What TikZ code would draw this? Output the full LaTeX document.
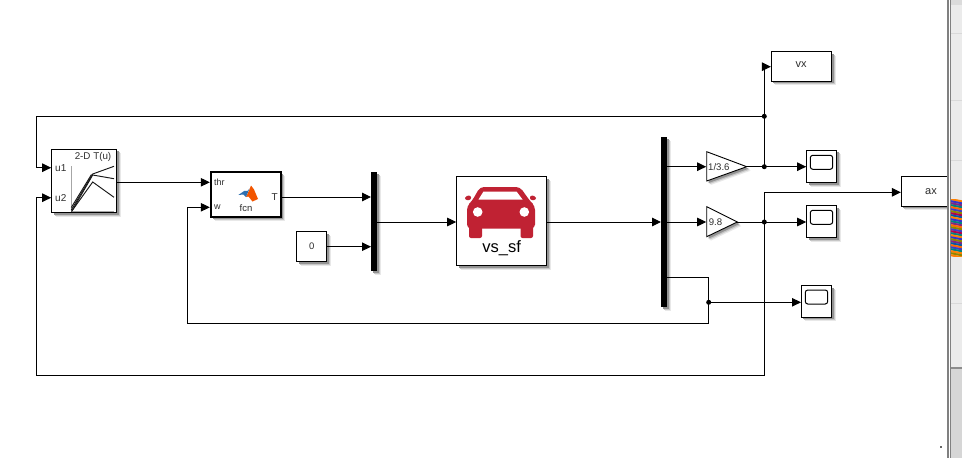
\documentclass[tikz,border=0pt]{standalone}
\usepackage{fontspec}
\setmainfont{Liberation Sans}
\usetikzlibrary{arrows.meta,shadows}
\definecolor{carred}{HTML}{C02233}
\definecolor{txt}{HTML}{2E2E2E}
\tikzset{
  softshadow/.style={
    general shadow={shadow xshift=4pt,shadow yshift=-4pt,fill=black!9},
    general shadow={shadow xshift=3pt,shadow yshift=-3pt,fill=black!22},
    general shadow={shadow xshift=2pt,shadow yshift=-2pt,fill=black!42}},
  block/.style={draw=black,fill=white,line width=1pt,inner sep=0pt,outer sep=0pt,softshadow,text=txt,font=\fontsize{11}{12}\selectfont},
  muxbar/.style={fill=black,draw=none,inner sep=0pt,outer sep=0pt,minimum width=6pt,softshadow},
  screen/.style={draw=black,fill=white,line width=1pt,rounded corners=2.5pt,inner sep=0pt,minimum width=22.4pt,minimum height=14pt},
  wire/.style={line width=0.95pt,draw=black},
  arrowwire/.style={wire,-{Triangle[length=9pt,width=8.5pt]}},
  joint/.style={circle,fill=black,inner sep=0pt,minimum size=5pt},
  lab/.style={text=txt,inner sep=0pt,font=\fontsize{10}{11}\selectfont},
  curve/.style={line width=0.95pt,draw=black!90},
  gainshape/.style={draw=black,fill=white,line width=0.9pt,softshadow}
}
\begin{document}
\begin{tikzpicture}[x=1pt,y=-1pt]
\useasboundingbox (0,0) rectangle (962,458);
\fill[white] (0,0) rectangle (962,458);

% blocks
\node[block,minimum width=65pt,minimum height=63.4pt] (lut) at (84.2,181) {};
\node[block,line width=2pt,minimum width=69.5pt,minimum height=45.5pt] (fcn) at (246.2,194.5) {};
\node[block,minimum width=30pt,minimum height=30pt,font=\fontsize{9.5}{10}\selectfont] (zero) at (311.7,246.7) {0};
\node[muxbar,minimum height=99pt] (mux1) at (374,221.5) {};
\node[block,minimum width=90pt,minimum height=89.3pt] (car) at (501.7,221.3) {};
\node[muxbar,minimum height=170pt] (mux2) at (664,221.7) {};
\node[block,minimum width=60.4pt,minimum height=29.6pt] (vx) at (801.5,66.5) {};
\node[text=txt,inner sep=0pt,font=\fontsize{11}{12}\selectfont] (vxlab) at (801,65) {vx};
\node[block,minimum width=30pt,minimum height=32.4pt] (scope1) at (821.7,166.5) {};
\node[screen] (screen1) at (821.5,162.3) {};
\node[block,minimum width=30pt,minimum height=32pt] (scope2) at (821.7,221.7) {};
\node[screen] (screen2) at (821.5,217.3) {};
\node[block,minimum width=30.4pt,minimum height=31.6pt] (scope3) at (816.5,301.5) {};
\node[screen] (screen3) at (816.5,297) {};
\node[block,minimum width=59.4pt,minimum height=30pt] (ax) at (931,191.3) {ax};

% gains
\filldraw[gainshape] (706.7,151.7) -- (746.7,166.7) -- (706.7,181) -- cycle;
\filldraw[gainshape] (706.7,206.7) -- (737.3,222) -- (706.7,236.7) -- cycle;
\node[lab,anchor=west,font=\fontsize{9.6}{10}\selectfont] (gain1) at (708,167) {1/3.6};
\node[lab,anchor=west,font=\fontsize{9.6}{10}\selectfont] (gain2) at (708.6,222.3) {9.8};

% lookup table contents
\node[lab,anchor=west] (u1lab) at (55,167.7) {u1};
\node[lab,anchor=west] (u2lab) at (55,197.7) {u2};
\node[lab,font=\fontsize{9.8}{10}\selectfont] (luttitle) at (93,157.3) {2-D T(u)};
\draw[black!35,line width=0.8pt] (71.3,166) -- (71.3,211.5) -- (114,211.5);
\draw[curve] (71.3,210) -- (92.7,174) -- (114,166.3);
\draw[curve] (72,211) -- (92.7,175) -- (114,178.7);
\draw[curve] (71.3,207.5) -- (91.5,174.5);
\draw[curve] (71.5,211.5) -- (92.7,182) -- (114,197.3);

% fcn contents
\node[lab,anchor=west,font=\fontsize{9}{10}\selectfont] (thrlab) at (214,182.3) {thr};
\node[lab,anchor=west,font=\fontsize{9}{10}\selectfont] (wlab) at (214,207.3) {w};
\node[lab,anchor=east] (tlab) at (278,196.8) {T};
\node[lab,font=\fontsize{9.5}{10}\selectfont] (fcnlab) at (246,208) {fcn};
\fill[orange!70!red!95!black] (251,185.5) -- (254,189.5) -- (258,199) -- (252.5,201.5) -- (248.5,196.5) -- (246,197) -- (249,190.5) -- cycle;
\fill[cyan!55!blue!85!black] (238.3,195) -- (244.5,190.8) -- (247.5,191) -- (249.5,188.5) -- (246,197) -- (243.5,194.5) -- cycle;

% car contents
\fill[carred,rounded corners=2pt] (465,196) -- (471,195.5) -- (471,200) -- (465,200) -- cycle;
\fill[carred,rounded corners=2pt] (530,195.5) -- (536,196) -- (536,200) -- (530,200) -- cycle;
\fill[carred,rounded corners=4pt] (467,228.5) -- (467,206) -- (472,201) -- (480,187) -- (520,187) -- (530,201) -- (535,206) -- (535,228.5) -- cycle;
\fill[carred,rounded corners=2pt] (469,226) rectangle (482,238);
\fill[carred,rounded corners=2pt] (520.5,226) rectangle (533,238);
\fill[white] (483.5,191.5) -- (516.5,191.5) -- (522.5,199.5) -- (478.5,199.5) -- cycle;
\fill[white] (477.7,212) circle (4.8pt);
\fill[white] (524.3,212) circle (4.8pt);
\node[text=black,inner sep=0pt,font=\fontsize{16.5}{18}\selectfont] (carlab) at (501.7,248) {vs\_sf};

% scope/port coordinates
\coordinate (u1) at (51.2,167.7);
\coordinate (u2) at (51.2,197.7);
\coordinate (lutout) at (117,182.3);
\coordinate (thr) at (209.8,182.3);
\coordinate (wport) at (209.8,207.3);
\coordinate (fcnout) at (281.5,197);
\coordinate (muxA) at (371,197);
\coordinate (zeroout) at (326.7,246.7);
\coordinate (muxB) at (371,246.7);
\coordinate (mux1out) at (377,222);
\coordinate (carin) at (456.2,222);
\coordinate (carout) at (546.7,222);
\coordinate (mux2in) at (661,222);
\coordinate (mux2a) at (667,166.7);
\coordinate (mux2b) at (667,222);
\coordinate (mux2c) at (667,277.3);
\coordinate (g1in) at (706.2,166.7);
\coordinate (g1out) at (746.7,166.7);
\coordinate (g2in) at (706.2,222);
\coordinate (g2out) at (737.3,222);
\coordinate (s1in) at (806.2,166.7);
\coordinate (s2in) at (806.2,222);
\coordinate (s3in) at (801,302.3);
\coordinate (vxin) at (770.9,66.7);
\coordinate (axin) at (900.9,192.3);
\coordinate (cornerVx) at (764.3,66.7);
\coordinate (cornerAx) at (764.3,192.3);
\coordinate (cornerLoopR) at (764.3,375.3);
\coordinate (cornerLoopL) at (36.7,375.3);
\coordinate (cornerU2) at (36.7,197.7);
\coordinate (cornerTopL) at (36.7,116.3);
\coordinate (cornerU1) at (36.7,167.7);
\coordinate (cornerW) at (187,207.3);
\coordinate (cornerWb) at (187,323.3);
\coordinate (cornerFbR) at (708.7,323.3);
\coordinate (cornerFbT) at (708.7,277.3);
\node[joint] (jtop) at (764.3,116.3) {};
\node[joint] (jv) at (764.3,166.7) {};
\node[joint] (ja) at (764.3,222) {};
\node[joint] (jw) at (708.7,302.3) {};

% wires
\draw[arrowwire] (jtop.center) -- (cornerTopL) -- (cornerU1) -- (u1);
\draw[arrowwire] (ja.center) -- (cornerLoopR) -- (cornerLoopL) -- (cornerU2) -- (u2);
\draw[arrowwire] (lutout) -- (thr);
\draw[arrowwire] (mux2c) -- (cornerFbT) -- (cornerFbR) -- (cornerWb) -- (cornerW) -- (wport);
\draw[arrowwire] (fcnout) -- (muxA);
\draw[arrowwire] (zeroout) -- (muxB);
\draw[arrowwire] (mux1out) -- (carin);
\draw[arrowwire] (carout) -- (mux2in);
\draw[arrowwire] (mux2a) -- (g1in);
\draw[arrowwire] (mux2b) -- (g2in);
\draw[arrowwire] (g1out) -- (s1in);
\draw[arrowwire] (g2out) -- (s2in);
\draw[arrowwire] (jw.center) -- (s3in);
\draw[arrowwire] (jv.center) -- (cornerVx) -- (vxin);
\draw[arrowwire] (ja.center) -- (cornerAx) -- (axin);

% right-hand window edge
\fill[white] (947,0) rectangle (962,458);
\fill[black!8] (951,0) rectangle (962,368);
\fill[black!14] (951,0) rectangle (962,5);
\fill[black!16] (951,368) rectangle (962,458);
\fill[black!45] (951,367) rectangle (962,368.5);
\foreach \yy in {33,100,160,240,303} {\fill[black!15] (951,\yy) rectangle (962,\yy+0.8);}
\fill[black!50] (947.3,0) rectangle (948.7,458);
\fill[black!50] (950,0) rectangle (951,458);
\begin{scope}
\clip (951,199.5) rectangle (962,256);
\foreach \i/\c in {0/orange,1/blue!60!gray,2/violet!70!gray,3/teal,4/orange!80!red,5/blue!50!gray,6/olive,7/violet!60!red,8/teal!70!blue,9/orange,10/blue!60!gray,11/teal,12/violet!70!gray,13/orange!80!red,14/olive,15/blue!50!gray,16/violet!60!red,17/teal,18/orange,19/blue!60!gray,20/olive,21/violet!70!gray,22/teal!70!blue,23/orange!80!red,24/blue!50!gray,25/teal,26/orange,27/olive,28/orange}
  {\fill[\c] (950,198+2*\i) -- (963,200.5+2*\i) -- (963,202.6+2*\i) -- (950,200.1+2*\i) -- cycle;}
\end{scope}
\fill[black!60] (940.2,446) rectangle (942.2,448);
\end{tikzpicture}
\end{document}
